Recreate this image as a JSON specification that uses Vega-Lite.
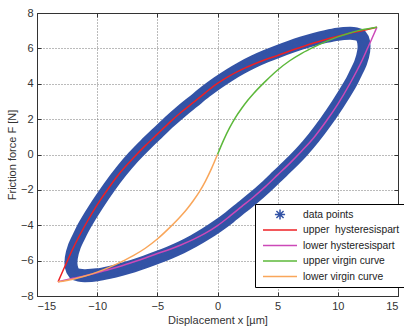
{
  "$schema": "https://vega.github.io/schema/vega-lite/v6.json",
  "width": 361,
  "height": 283,
  "autosize": {"type": "none"},
  "padding": {"left": 37, "top": 13, "right": 6, "bottom": 33},
  "background": "white",
  "datasets": {
    "band": [
      {"i": 1, "x": -11.9, "y": -6.72, "series": "data points"},
      {"i": 2, "x": -12.15, "y": -6.35, "series": "data points"},
      {"i": 3, "x": -12.15, "y": -5.85, "series": "data points"},
      {"i": 4, "x": -11.9, "y": -5.2, "series": "data points"},
      {"i": 5, "x": -11.45, "y": -4.55, "series": "data points"},
      {"i": 6, "x": -11.0, "y": -3.95, "series": "data points"},
      {"i": 7, "x": -10.0, "y": -2.85, "series": "data points"},
      {"i": 8, "x": -9.0, "y": -1.85, "series": "data points"},
      {"i": 9, "x": -8.0, "y": -0.95, "series": "data points"},
      {"i": 10, "x": -7.0, "y": -0.15, "series": "data points"},
      {"i": 11, "x": -6.0, "y": 0.55, "series": "data points"},
      {"i": 12, "x": -5.0, "y": 1.2, "series": "data points"},
      {"i": 13, "x": -4.0, "y": 1.85, "series": "data points"},
      {"i": 14, "x": -3.0, "y": 2.45, "series": "data points"},
      {"i": 15, "x": -2.0, "y": 3.0, "series": "data points"},
      {"i": 16, "x": -1.0, "y": 3.55, "series": "data points"},
      {"i": 17, "x": 0.0, "y": 4.05, "series": "data points"},
      {"i": 18, "x": 1.0, "y": 4.5, "series": "data points"},
      {"i": 19, "x": 2.0, "y": 4.9, "series": "data points"},
      {"i": 20, "x": 3.0, "y": 5.25, "series": "data points"},
      {"i": 21, "x": 4.0, "y": 5.55, "series": "data points"},
      {"i": 22, "x": 5.0, "y": 5.82, "series": "data points"},
      {"i": 23, "x": 6.0, "y": 6.07, "series": "data points"},
      {"i": 24, "x": 7.0, "y": 6.3, "series": "data points"},
      {"i": 25, "x": 8.0, "y": 6.5, "series": "data points"},
      {"i": 26, "x": 9.0, "y": 6.67, "series": "data points"},
      {"i": 27, "x": 10.0, "y": 6.8, "series": "data points"},
      {"i": 28, "x": 11.0, "y": 6.85, "series": "data points"},
      {"i": 29, "x": 11.5, "y": 6.82, "series": "data points"},
      {"i": 30, "x": 11.9, "y": 6.72, "series": "data points"},
      {"i": 31, "x": 12.15, "y": 6.35, "series": "data points"},
      {"i": 32, "x": 12.15, "y": 5.85, "series": "data points"},
      {"i": 33, "x": 11.9, "y": 5.2, "series": "data points"},
      {"i": 34, "x": 11.45, "y": 4.55, "series": "data points"},
      {"i": 35, "x": 11.0, "y": 3.95, "series": "data points"},
      {"i": 36, "x": 10.0, "y": 2.85, "series": "data points"},
      {"i": 37, "x": 9.0, "y": 1.85, "series": "data points"},
      {"i": 38, "x": 8.0, "y": 0.95, "series": "data points"},
      {"i": 39, "x": 7.0, "y": 0.15, "series": "data points"},
      {"i": 40, "x": 6.0, "y": -0.55, "series": "data points"},
      {"i": 41, "x": 5.0, "y": -1.2, "series": "data points"},
      {"i": 42, "x": 4.0, "y": -1.85, "series": "data points"},
      {"i": 43, "x": 3.0, "y": -2.45, "series": "data points"},
      {"i": 44, "x": 2.0, "y": -3.0, "series": "data points"},
      {"i": 45, "x": 1.0, "y": -3.55, "series": "data points"},
      {"i": 46, "x": 0.0, "y": -4.05, "series": "data points"},
      {"i": 47, "x": -1.0, "y": -4.5, "series": "data points"},
      {"i": 48, "x": -2.0, "y": -4.9, "series": "data points"},
      {"i": 49, "x": -3.0, "y": -5.25, "series": "data points"},
      {"i": 50, "x": -4.0, "y": -5.55, "series": "data points"},
      {"i": 51, "x": -5.0, "y": -5.82, "series": "data points"},
      {"i": 52, "x": -6.0, "y": -6.07, "series": "data points"},
      {"i": 53, "x": -7.0, "y": -6.3, "series": "data points"},
      {"i": 54, "x": -8.0, "y": -6.5, "series": "data points"},
      {"i": 55, "x": -9.0, "y": -6.67, "series": "data points"},
      {"i": 56, "x": -10.0, "y": -6.8, "series": "data points"},
      {"i": 57, "x": -11.0, "y": -6.85, "series": "data points"},
      {"i": 58, "x": -11.5, "y": -6.82, "series": "data points"}
    ],
    "curves": [
      {"series": "upper\u00a0 hysteresispart", "x": -13.25, "y": -7.2},
      {"series": "upper\u00a0 hysteresispart", "x": -12.8, "y": -6.5},
      {"series": "upper\u00a0 hysteresispart", "x": -12.5, "y": -6.05},
      {"series": "upper\u00a0 hysteresispart", "x": -12, "y": -5.3},
      {"series": "upper\u00a0 hysteresispart", "x": -11, "y": -4.0},
      {"series": "upper\u00a0 hysteresispart", "x": -10, "y": -2.85},
      {"series": "upper\u00a0 hysteresispart", "x": -9, "y": -1.85},
      {"series": "upper\u00a0 hysteresispart", "x": -8, "y": -0.95},
      {"series": "upper\u00a0 hysteresispart", "x": -7, "y": -0.2},
      {"series": "upper\u00a0 hysteresispart", "x": -6, "y": 0.5},
      {"series": "upper\u00a0 hysteresispart", "x": -5, "y": 1.15},
      {"series": "upper\u00a0 hysteresispart", "x": -4, "y": 1.8},
      {"series": "upper\u00a0 hysteresispart", "x": -3, "y": 2.4},
      {"series": "upper\u00a0 hysteresispart", "x": -2, "y": 2.95},
      {"series": "upper\u00a0 hysteresispart", "x": -1, "y": 3.5},
      {"series": "upper\u00a0 hysteresispart", "x": 0, "y": 4.02},
      {"series": "upper\u00a0 hysteresispart", "x": 1, "y": 4.45},
      {"series": "upper\u00a0 hysteresispart", "x": 2, "y": 4.8},
      {"series": "upper\u00a0 hysteresispart", "x": 3, "y": 5.1},
      {"series": "upper\u00a0 hysteresispart", "x": 4, "y": 5.37},
      {"series": "upper\u00a0 hysteresispart", "x": 5, "y": 5.6},
      {"series": "upper\u00a0 hysteresispart", "x": 6, "y": 5.85},
      {"series": "upper\u00a0 hysteresispart", "x": 7, "y": 6.08},
      {"series": "upper\u00a0 hysteresispart", "x": 8, "y": 6.3},
      {"series": "upper\u00a0 hysteresispart", "x": 9, "y": 6.5},
      {"series": "upper\u00a0 hysteresispart", "x": 10, "y": 6.68},
      {"series": "upper\u00a0 hysteresispart", "x": 11, "y": 6.85},
      {"series": "upper\u00a0 hysteresispart", "x": 12, "y": 7.0},
      {"series": "upper\u00a0 hysteresispart", "x": 13.25, "y": 7.2},
      {"series": "lower hysteresispart", "x": -13.25, "y": -7.2},
      {"series": "lower hysteresispart", "x": -12, "y": -7.0},
      {"series": "lower hysteresispart", "x": -11, "y": -6.85},
      {"series": "lower hysteresispart", "x": -10, "y": -6.68},
      {"series": "lower hysteresispart", "x": -9, "y": -6.5},
      {"series": "lower hysteresispart", "x": -8, "y": -6.3},
      {"series": "lower hysteresispart", "x": -7, "y": -6.08},
      {"series": "lower hysteresispart", "x": -6, "y": -5.85},
      {"series": "lower hysteresispart", "x": -5, "y": -5.6},
      {"series": "lower hysteresispart", "x": -4, "y": -5.37},
      {"series": "lower hysteresispart", "x": -3, "y": -5.1},
      {"series": "lower hysteresispart", "x": -2, "y": -4.8},
      {"series": "lower hysteresispart", "x": -1, "y": -4.45},
      {"series": "lower hysteresispart", "x": 0, "y": -4.02},
      {"series": "lower hysteresispart", "x": 1, "y": -3.5},
      {"series": "lower hysteresispart", "x": 2, "y": -2.95},
      {"series": "lower hysteresispart", "x": 3, "y": -2.4},
      {"series": "lower hysteresispart", "x": 4, "y": -1.8},
      {"series": "lower hysteresispart", "x": 5, "y": -1.15},
      {"series": "lower hysteresispart", "x": 6, "y": -0.5},
      {"series": "lower hysteresispart", "x": 7, "y": 0.2},
      {"series": "lower hysteresispart", "x": 8, "y": 0.95},
      {"series": "lower hysteresispart", "x": 9, "y": 1.85},
      {"series": "lower hysteresispart", "x": 10, "y": 2.85},
      {"series": "lower hysteresispart", "x": 11, "y": 4.0},
      {"series": "lower hysteresispart", "x": 12, "y": 5.3},
      {"series": "lower hysteresispart", "x": 12.5, "y": 6.05},
      {"series": "lower hysteresispart", "x": 12.8, "y": 6.5},
      {"series": "lower hysteresispart", "x": 13.25, "y": 7.2},
      {"series": "upper virgin curve", "x": 0, "y": 0},
      {"series": "upper virgin curve", "x": 0.5, "y": 0.8},
      {"series": "upper virgin curve", "x": 1, "y": 1.5},
      {"series": "upper virgin curve", "x": 1.5, "y": 2.1},
      {"series": "upper virgin curve", "x": 2, "y": 2.6},
      {"series": "upper virgin curve", "x": 2.5, "y": 3.05},
      {"series": "upper virgin curve", "x": 3, "y": 3.45},
      {"series": "upper virgin curve", "x": 4, "y": 4.15},
      {"series": "upper virgin curve", "x": 5, "y": 4.78},
      {"series": "upper virgin curve", "x": 6, "y": 5.3},
      {"series": "upper virgin curve", "x": 7, "y": 5.72},
      {"series": "upper virgin curve", "x": 8, "y": 6.07},
      {"series": "upper virgin curve", "x": 9, "y": 6.38},
      {"series": "upper virgin curve", "x": 10, "y": 6.65},
      {"series": "upper virgin curve", "x": 11, "y": 6.87},
      {"series": "upper virgin curve", "x": 12, "y": 7.05},
      {"series": "upper virgin curve", "x": 13.25, "y": 7.2},
      {"series": "lower virgin curve", "x": 0, "y": 0},
      {"series": "lower virgin curve", "x": -0.5, "y": -0.8},
      {"series": "lower virgin curve", "x": -1, "y": -1.5},
      {"series": "lower virgin curve", "x": -1.5, "y": -2.1},
      {"series": "lower virgin curve", "x": -2, "y": -2.6},
      {"series": "lower virgin curve", "x": -2.5, "y": -3.05},
      {"series": "lower virgin curve", "x": -3, "y": -3.45},
      {"series": "lower virgin curve", "x": -4, "y": -4.15},
      {"series": "lower virgin curve", "x": -5, "y": -4.78},
      {"series": "lower virgin curve", "x": -6, "y": -5.3},
      {"series": "lower virgin curve", "x": -7, "y": -5.72},
      {"series": "lower virgin curve", "x": -8, "y": -6.07},
      {"series": "lower virgin curve", "x": -9, "y": -6.38},
      {"series": "lower virgin curve", "x": -10, "y": -6.65},
      {"series": "lower virgin curve", "x": -11, "y": -6.87},
      {"series": "lower virgin curve", "x": -12, "y": -7.05},
      {"series": "lower virgin curve", "x": -13.25, "y": -7.2}
    ]
  },
  "resolve": {"axis": {"x": "independent", "y": "independent"}},
  "layer": [
    {
      "data": {"name": "band"},
      "mark": {"type": "line", "interpolate": "cardinal-closed", "strokeWidth": 13, "color": "#3353a6", "strokeJoin": "round"},
      "encoding": {
        "x": {"field": "x", "type": "quantitative", "scale": {"domain": [-15, 15], "nice": false, "zero": false},
          "axis": {"orient": "bottom", "title": "Displacement x [µm]", "values": [-15, -10, -5, 0, 5, 10, 15], "grid": true, "tickSize": -4, "labelPadding": 8, "titlePadding": 3}},
        "y": {"field": "y", "type": "quantitative", "scale": {"domain": [-8, 8], "nice": false, "zero": false},
          "axis": {"orient": "left", "title": "Friction force F [N]", "values": [-8, -6, -4, -2, 0, 2, 4, 6, 8], "grid": true, "tickSize": -4, "labelPadding": 8, "titlePadding": 3}},
        "order": {"field": "i", "type": "quantitative"}
      }
    },
    {
      "data": {"name": "band"},
      "mark": {"type": "point", "filled": false, "size": 1400, "strokeWidth": 1.2, "opacity": 1},
      "encoding": {
        "x": {"field": "x", "type": "quantitative", "axis": null},
        "y": {"field": "y", "type": "quantitative", "axis": null},
        "color": {"field": "series", "type": "nominal",
          "scale": {"domain": ["data points", "upper\u00a0 hysteresispart", "lower hysteresispart", "upper virgin curve", "lower virgin curve"],
                    "range": ["#3353a6", "#ee2024", "#cc49b8", "#5cb83a", "#f9a65a"]},
          "legend": {"orient": "none", "legendX": 218, "legendY": 191, "title": null, "fillColor": "white", "strokeColor": "black", "padding": 4, "symbolSize": 1156, "symbolStrokeWidth": 1.5, "symbolOffset": 3, "labelOffset": 5, "clipHeight": 13, "rowPadding": 2.5, "labelFontSize": 10.3, "labelColor": "#222", "labelFont": "Liberation Sans"}},
        "shape": {"field": "series", "type": "nominal",
          "scale": {"domain": ["data points", "upper\u00a0 hysteresispart", "lower hysteresispart", "upper virgin curve", "lower virgin curve"],
                    "range": ["M-0.3,0H0.3M0,-0.3V0.3M-0.21,-0.21L0.21,0.21M-0.21,0.21L0.21,-0.21", "stroke", "stroke", "stroke", "stroke"]},
          "legend": {"orient": "none", "legendX": 218, "legendY": 191, "title": null, "fillColor": "white", "strokeColor": "black", "padding": 4, "symbolSize": 1156, "symbolStrokeWidth": 1.5, "symbolOffset": 3, "labelOffset": 5, "clipHeight": 13, "rowPadding": 2.5, "labelFontSize": 10.3, "labelColor": "#222", "labelFont": "Liberation Sans"}}
      }
    },
    {
      "data": {"name": "curves"},
      "mark": {"type": "line", "strokeWidth": 1.5, "interpolate": "monotone"},
      "encoding": {
        "x": {"field": "x", "type": "quantitative", "axis": {"orient": "top", "title": null, "labels": false, "grid": false, "values": [-15, -10, -5, 0, 5, 10, 15], "tickSize": -4}},
        "y": {"field": "y", "type": "quantitative", "axis": {"orient": "right", "title": null, "labels": false, "grid": false, "values": [-8, -6, -4, -2, 0, 2, 4, 6, 8], "tickSize": -4}},
        "color": {"field": "series", "type": "nominal",
          "scale": {"domain": ["data points", "upper\u00a0 hysteresispart", "lower hysteresispart", "upper virgin curve", "lower virgin curve"],
                    "range": ["#3353a6", "#ee2024", "#cc49b8", "#5cb83a", "#f9a65a"]},
          "legend": {"orient": "none", "legendX": 218, "legendY": 191, "title": null, "fillColor": "white", "strokeColor": "black", "padding": 4, "symbolSize": 1156, "symbolStrokeWidth": 1.5, "symbolOffset": 3, "labelOffset": 5, "clipHeight": 13, "rowPadding": 2.5, "labelFontSize": 10.3, "labelColor": "#222", "labelFont": "Liberation Sans"}}
      }
    }
  ],
  "config": {
    "font": "Liberation Sans",
    "view": {"stroke": null},
    "axis": {"labelFont": "Liberation Sans", "labelFontSize": 11, "labelColor": "#333", "titleFont": "Liberation Sans", "titleFontSize": 11, "titleFontWeight": "normal", "titleColor": "#333", "domainColor": "#333", "tickColor": "#333", "gridColor": "#777", "gridDash": [1, 2], "gridOpacity": 1, "domainWidth": 1}
  }
}
